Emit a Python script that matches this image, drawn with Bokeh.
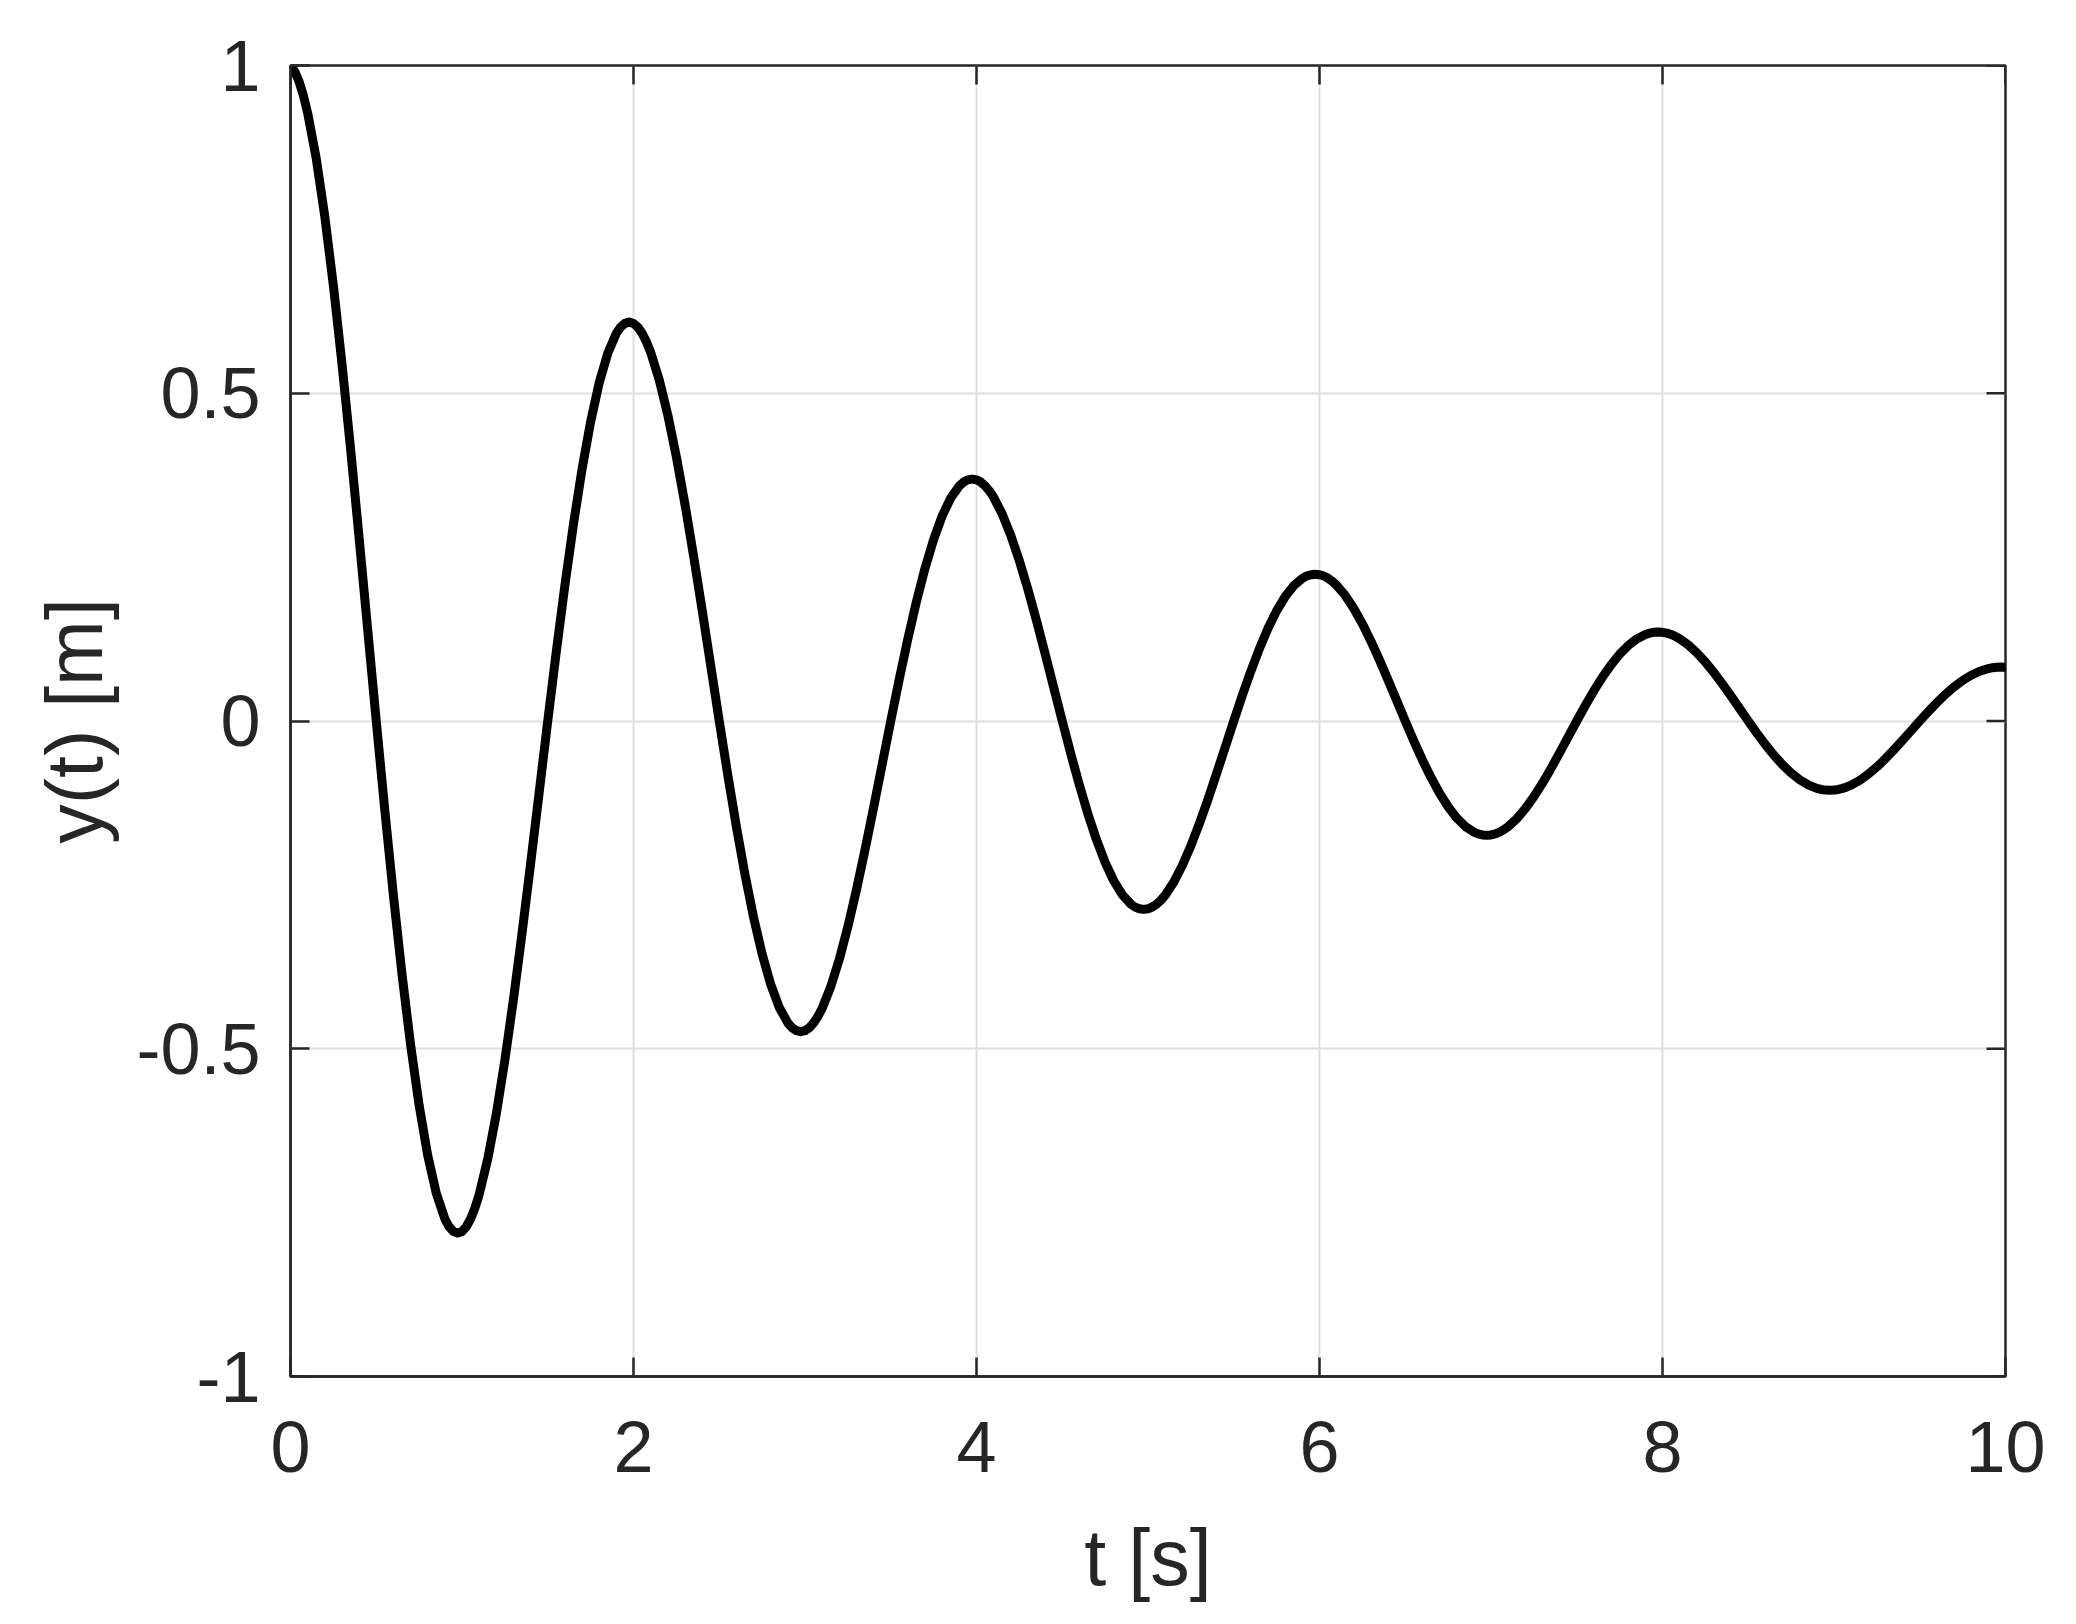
from bokeh.plotting import figure
from bokeh.models import Range1d, FixedTicker
from bokeh.embed import file_html
from bokeh.resources import INLINE
import numpy as np

y_values = [
    1.0, 0.9754, 0.9276, 0.8582, 0.7696, 0.6643, 0.5453, 0.4160, 0.2796, 0.1398,
    0.0, -0.1363, -0.2660, -0.3859, -0.4934, -0.5862, -0.6624, -0.7204, -0.7594, -0.7789,
    -0.7788, -0.7597, -0.7224, -0.6684, -0.5993, -0.5173, -0.4247, -0.3240, -0.2178, -0.1089,
    0.0, 0.1062, 0.2071, 0.3005, 0.3843, 0.4566, 0.5159, 0.5611, 0.5915, 0.6066,
    0.6065, 0.5916, 0.5626, 0.5205, 0.4668, 0.4029, 0.3308, 0.2523, 0.1696, 0.0848,
    0.0, -0.0827, -0.1613, -0.2341, -0.2993, -0.3556, -0.4018, -0.4370, -0.4606, -0.4724,
    -0.4724, -0.4608, -0.4382, -0.4054, -0.3635, -0.3138, -0.2576, -0.1965, -0.1321, -0.0660,
    0.0, 0.0644, 0.1256, 0.1823, 0.2331, 0.2769, 0.3129, 0.3403, 0.3587, 0.3679,
    0.3679, 0.3588, 0.3412, 0.3157, 0.2831, 0.2444, 0.2006, 0.1530, 0.1029, 0.0514,
    0.0, -0.0502, -0.0979, -0.1420, -0.1815, -0.2157, -0.2437, -0.2650, -0.2794, -0.2865,
    -0.2865, -0.2795, -0.2658, -0.2459, -0.2205, -0.1903, -0.1562, -0.1192, -0.0801, -0.0401,
    0.0, 0.0391, 0.0762, 0.1106, 0.1414, 0.1680, 0.1898, 0.2064, 0.2176, 0.2232,
    0.2231, 0.2177, 0.2070, 0.1915, 0.1717, 0.1482, 0.1217, 0.0928, 0.0624, 0.0312,
    0.0, -0.0304, -0.0594, -0.0861, -0.1101, -0.1308, -0.1478, -0.1608, -0.1695, -0.1738,
    -0.1738, -0.1695, -0.1612, -0.1491, -0.1337, -0.1154, -0.0948, -0.0723, -0.0486, -0.0243,
    0.0, 0.0237, 0.0462, 0.0671, 0.0857, 0.1019, 0.1151, 0.1252, 0.1320, 0.1354,
    0.1353, 0.1320, 0.1255, 0.1162, 0.1042, 0.0899, 0.0738, 0.0563, 0.0378, 0.0189,
    0.0, -0.0185, -0.0360, -0.0522, -0.0668, -0.0793, -0.0896, -0.0975, -0.1028, -0.1054,
    -0.1054, -0.1028, -0.0978, -0.0905, -0.0811, -0.0700, -0.0575, -0.0438, -0.0295, -0.0147,
    0.0, 0.0144, 0.0280, 0.0407, 0.0520, 0.0618, 0.0698, 0.0759, 0.0800, 0.0821, 0.0821,
]
t_values = list(np.linspace(0.0, 10.0, len(y_values)))

# Extra readings taken around each peak/trough, where the curve bends most
peak_t = [0.025, 0.075,
          0.925, 0.975, 1.025, 1.075,
          1.925, 1.975, 2.025, 2.075,
          2.925, 2.975, 3.025, 3.075,
          3.925, 3.975, 4.025, 4.075,
          4.925, 4.975, 5.025, 5.075,
          5.925, 5.975, 6.025, 6.075,
          6.925, 6.975, 7.025, 7.075,
          7.925, 7.975, 8.025, 8.075,
          8.925, 8.975, 9.025, 9.075,
          9.925, 9.975]
peak_y = [0.9907, 0.9543,
          -0.7716, -0.7813, -0.7716, -0.7432,
          0.6009, 0.6085, 0.6009, 0.5788,
          -0.4680, -0.4739, -0.4680, -0.4508,
          0.3645, 0.3691, 0.3645, 0.3511,
          -0.2839, -0.2874, -0.2838, -0.2734,
          0.2211, 0.2238, 0.2211, 0.2129,
          -0.1722, -0.1743, -0.1722, -0.1658,
          0.1341, 0.1358, 0.1341, 0.1292,
          -0.1044, -0.1057, -0.1044, -0.1006,
          0.0813, 0.0823]

x_ticks = [0, 2, 4, 6, 8, 10]
x_tick_labels = ["0", "2", "4", "6", "8", "10"]
y_ticks = [-1, -0.5, 0, 0.5, 1]
y_tick_labels = ["-1", "-0.5", "0", "0.5", "1"]
x_label = "t [s]"
y_label = "y(t) [m]"
x_lim = (0, 10)
y_lim = (-1, 1)

all_t = np.array(t_values + peak_t)
all_y = np.array(y_values + peak_y)
order = np.argsort(all_t)
all_t = all_t[order]
all_y = all_y[order]

FONT = "Liberation Sans"
TXT = "#262626"
TICK_FS = "72px"
LABEL_FS = "79px"
TICK_LEN = 19

p = figure(
    frame_width=1715, frame_height=1311,
    min_border_left=290, min_border_top=65, min_border_right=60, min_border_bottom=230,
    x_range=Range1d(*x_lim), y_range=Range1d(*y_lim),
    output_backend="svg", toolbar_location=None,
    background_fill_color="white", border_fill_color="white",
)

p.xgrid.ticker = FixedTicker(ticks=x_ticks)
p.ygrid.ticker = FixedTicker(ticks=y_ticks)
for g in (p.xgrid[0], p.ygrid[0]):
    g.grid_line_color = "#dfdfdf"
    g.grid_line_width = 2

p.line(all_t, all_y, line_color="black", line_width=9, line_join="round", line_cap="round")

# inward ticks on top and right edges (box style); clipped to the frame
p.scatter(x_ticks, [y_lim[1]] * len(x_ticks), marker="dash", size=2 * TICK_LEN, angle=np.pi / 2,
          line_color=TXT, line_width=2.5)
p.scatter([x_lim[1]] * len(y_ticks), y_ticks, marker="dash", size=2 * TICK_LEN,
          line_color=TXT, line_width=2.5)

def style_axis(ax, ticks, labels, standoff):
    ax.ticker = FixedTicker(ticks=ticks)
    ax.major_label_overrides = {tk: lb for tk, lb in zip(ticks, labels)}
    ax.axis_line_color = TXT
    ax.axis_line_width = 2.5
    ax.major_tick_line_color = TXT
    ax.major_tick_line_width = 2.5
    ax.major_tick_in = TICK_LEN
    ax.major_tick_out = 0
    ax.minor_tick_line_color = None
    ax.major_label_text_font = FONT
    ax.major_label_text_color = TXT
    ax.major_label_text_font_size = TICK_FS
    ax.major_label_standoff = standoff
    ax.axis_label_text_font = FONT
    ax.axis_label_text_font_size = LABEL_FS
    ax.axis_label_text_font_style = "normal"
    ax.axis_label_text_color = TXT

xa = p.xaxis[0]
ya = p.yaxis[0]
style_axis(xa, x_ticks, x_tick_labels, 45)
style_axis(ya, y_ticks, y_tick_labels, 30)
xa.axis_label = x_label
ya.axis_label = y_label
xa.axis_label_standoff = 38
ya.axis_label_standoff = 14

p.outline_line_color = TXT
p.outline_line_width = 2.5

open("out.html", "w").write(file_html(p, INLINE))
